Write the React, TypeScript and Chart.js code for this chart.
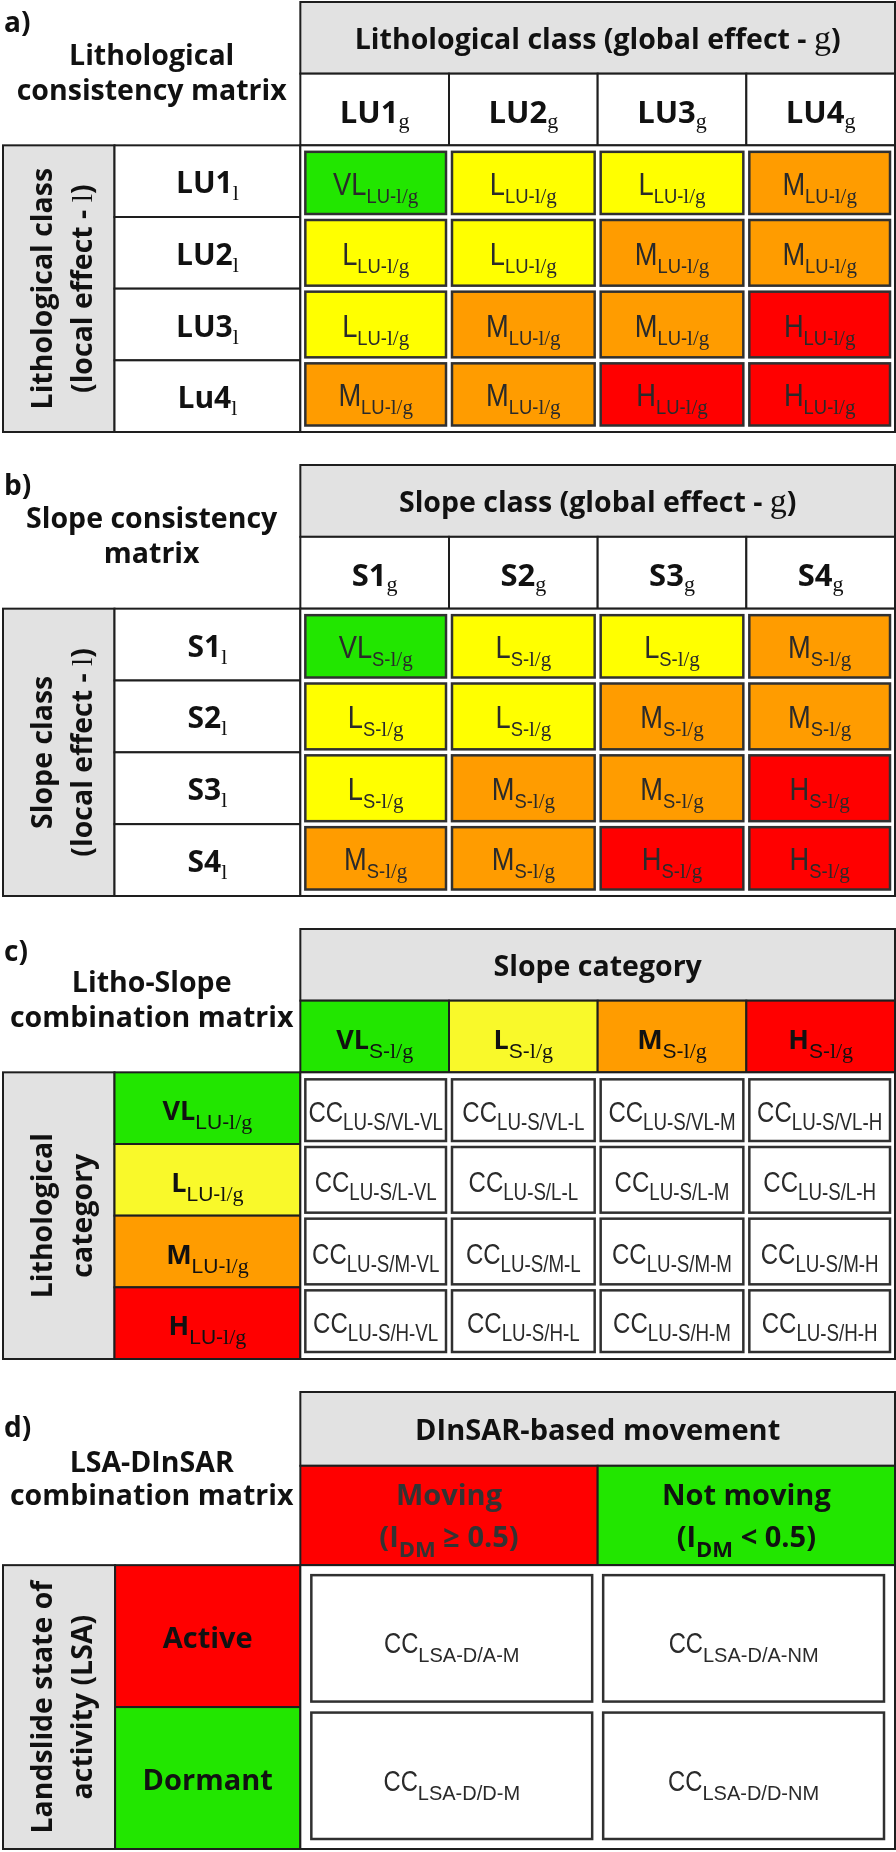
import React, { useEffect, useRef } from "react";
import { Chart, registerables } from "chart.js";
Chart.register(...registerables);

// ---------------- data ----------------
const panelLabels = ["a)", "b)", "c)", "d)"];
const panelTitles = [
  ["Lithological", "consistency matrix"],
  ["Slope consistency", "matrix"],
  ["Litho-Slope", "combination matrix"],
  ["LSA-DInSAR", "combination matrix"],
];
const headerTitles = [
  "Lithological class (global effect - ",
  "Slope class (global effect - ",
  "Slope category",
  "DInSAR-based movement",
];
const sideTitles = [
  ["Lithological class", "(local effect - "],
  ["Slope class", "(local effect - "],
  ["Lithological", "category"],
  ["Landslide state of", "activity (LSA)"],
];
const lithoColClasses = ["LU1", "LU2", "LU3", "LU4"];
const lithoRowClasses = ["LU1", "LU2", "LU3", "Lu4"];
const slopeColClasses = ["S1", "S2", "S3", "S4"];
const slopeRowClasses = ["S1", "S2", "S3", "S4"];
const lithoMatrix = [
  ["VL", "L", "L", "M"],
  ["L", "L", "M", "M"],
  ["L", "M", "M", "H"],
  ["M", "M", "H", "H"],
];
const slopeMatrix = [
  ["VL", "L", "L", "M"],
  ["L", "L", "M", "M"],
  ["L", "M", "M", "H"],
  ["M", "M", "H", "H"],
];
const slopeCategories = ["VL", "L", "M", "H"];
const lithoCategories = ["VL", "L", "M", "H"];
const dinsarClasses = ["Moving", "Not moving"];
const dinsarOperators = ["≥", "<"];
const dinsarThreshold = "0.5";
const dinsarCodes = ["M", "NM"];
const lsaClasses = ["Active", "Dormant"];
const lsaCodes = ["A", "D"];

// ---------------- styles ----------------
const GREEN = "#22e600";
const YELLOW = "#ffff00";
const ORANGE = "#ff9c00";
const RED = "#ff0000";
const GREY = "#e2e2e2";
const LINE = "#1e1e1e";
const BOX = "#303030";
const DARK = "#111111";
const CELLTXT = "#2a2a2a";
const levelColors: Record<string, string> = { VL: GREEN, L: YELLOW, M: ORANGE, H: RED };
const levelColorsC: Record<string, string> = { VL: GREEN, L: "#f9f92a", M: ORANGE, H: RED };

const BOLDF = '"Open Sans", "Lato", sans-serif';
const SANSF = '"Liberation Sans", Arial, sans-serif';
const SERIFF = '"Liberation Serif", "Times New Roman", serif';

const TS = 28.5; // heading size

type Run = { t: string; f: string; dy?: number; sx?: number };
type TextLine = { runs: Run[]; dy: number };
type CellText = { lines: TextLine[]; color: string };

const B = (t: string, s: number, dy = 0, sx = 1): Run => ({ t, f: `bold ${s}px ${BOLDF}`, dy, sx });
const S = (t: string, s: number, dy = 0, sx = 1): Run => ({ t, f: `${s}px ${SANSF}`, dy, sx });
const R = (t: string, s: number, dy = 0, sx = 1): Run => ({ t, f: `${s}px ${SERIFF}`, dy, sx });

interface PanelCfg {
  height: number; padTop: number; padBottom: number;
  xMin: number; xMax: number; greyEdge: number;
  yMin: number; yMax: number; titleEdge: number;
  nCols: number; nRows: number;
  padX: number; padY: number; gap: number;
  label: string; labelDy: number;
  title: TextLine[];
  headerTitle: TextLine;
  side: TextLine[];
  colFill: (c: number) => string; colText: (c: number) => CellText;
  rowFill: (r: number) => string; rowText: (r: number) => CellText;
  cellFill: (r: number, c: number) => string; cellText: (r: number, c: number) => CellText;
}

function runsWidth(ctx: CanvasRenderingContext2D, runs: Run[]) {
  let w = 0;
  for (const r of runs) {
    ctx.font = r.f;
    w += ctx.measureText(r.t).width * (r.sx ?? 1);
  }
  return w;
}

function drawRuns(ctx: CanvasRenderingContext2D, runs: Run[], cx: number, base: number, color: string) {
  const w = runsWidth(ctx, runs);
  let x = cx - w / 2;
  ctx.fillStyle = color;
  ctx.textAlign = "left";
  ctx.textBaseline = "alphabetic";
  for (const r of runs) {
    ctx.font = r.f;
    const rw = ctx.measureText(r.t).width;
    const sx = r.sx ?? 1;
    ctx.save();
    ctx.translate(x, base + (r.dy ?? 0));
    ctx.scale(sx, 1);
    ctx.fillText(r.t, 0, 0);
    ctx.restore();
    x += rw * sx;
  }
}

function drawPanel(chart: any, p: PanelCfg) {
  const ctx: CanvasRenderingContext2D = chart.ctx;
  const X = (v: number) => chart.scales.x.getPixelForValue(v);
  const Y = (v: number) => chart.scales.y.getPixelForValue(v);
  ctx.save();
  ctx.fillStyle = "#fff";
  ctx.fillRect(0, 0, chart.width, chart.height);
  const rect = (x0: number, y0: number, x1: number, y1: number, fill: string, lw = 2, stroke = LINE) => {
    ctx.fillStyle = fill;
    ctx.fillRect(x0, y0, x1 - x0, y1 - y0);
    ctx.lineWidth = lw;
    ctx.strokeStyle = stroke;
    ctx.strokeRect(x0, y0, x1 - x0, y1 - y0);
  };
  // title row
  rect(X(0), Y(p.yMin), X(p.nCols), Y(p.titleEdge), GREY);
  // column headers
  for (let c = 0; c < p.nCols; c++) rect(X(c), Y(p.titleEdge), X(c + 1), Y(0), p.colFill(c));
  // grey side column
  rect(X(p.xMin), Y(0), X(p.greyEdge), Y(p.nRows), GREY);
  // row headers
  for (let r = 0; r < p.nRows; r++) rect(X(p.greyEdge), Y(r), X(0), Y(r + 1), p.rowFill(r));
  // body frame
  rect(X(0), Y(0), X(p.nCols), Y(p.nRows), "#fff");
  // body boxes
  const boxes: { r: number; c: number; x0: number; x1: number; y0: number; y1: number }[] = [];
  for (let r = 0; r < p.nRows; r++) {
    for (let c = 0; c < p.nCols; c++) {
      const x0 = X(c) + (c === 0 ? p.padX : p.gap / 2);
      const x1 = X(c + 1) - (c === p.nCols - 1 ? p.padX : p.gap / 2);
      const y0 = Y(r) + (r === 0 ? p.padY : p.gap / 2);
      const y1 = Y(r + 1) - (r === p.nRows - 1 ? p.padY : p.gap / 2);
      rect(x0, y0, x1, y1, p.cellFill(r, c), 2.5, BOX);
      boxes.push({ r, c, x0, x1, y0, y1 });
    }
  }
  // ---- texts ----
  ctx.font = `bold 28px ${BOLDF}`;
  ctx.fillStyle = DARK;
  ctx.textAlign = "left";
  ctx.textBaseline = "alphabetic";
  ctx.fillText(p.label, X(p.xMin) + 1, Y(p.yMin) + p.labelDy);
  // left title
  const tcx = (X(p.xMin) + X(0)) / 2;
  const tcy = (Y(p.yMin) + Y(0)) / 2;
  for (const l of p.title) drawRuns(ctx, l.runs, tcx, tcy + l.dy, DARK);
  // header title
  drawRuns(ctx, p.headerTitle.runs, (X(0) + X(p.nCols)) / 2, (Y(p.yMin) + Y(p.titleEdge)) / 2 + p.headerTitle.dy, DARK);
  // column headers
  for (let c = 0; c < p.nCols; c++) {
    const t = p.colText(c);
    for (const l of t.lines) drawRuns(ctx, l.runs, X(c + 0.5), (Y(p.titleEdge) + Y(0)) / 2 + l.dy, t.color);
  }
  // row headers
  for (let r = 0; r < p.nRows; r++) {
    const t = p.rowText(r);
    for (const l of t.lines) drawRuns(ctx, l.runs, (X(p.greyEdge) + X(0)) / 2, Y(r + 0.5) + l.dy, t.color);
  }
  // cells
  for (const b of boxes) {
    const t = p.cellText(b.r, b.c);
    for (const l of t.lines) drawRuns(ctx, l.runs, (b.x0 + b.x1) / 2, (b.y0 + b.y1) / 2 + l.dy, t.color);
  }
  // rotated side title
  const scx = (X(p.xMin) + X(p.greyEdge)) / 2;
  const scy = (Y(0) + Y(p.nRows)) / 2;
  for (const l of p.side) {
    ctx.save();
    ctx.translate(scx + l.dy, scy);
    ctx.rotate(-Math.PI / 2);
    drawRuns(ctx, l.runs, 0, 0, DARK);
    ctx.restore();
  }
  ctx.restore();
}

function makeConsistency(
  idx: number, cols: string[], rows: string[], matrix: string[][], pre: string,
  height: number, padTop: number, padBottom: number
): PanelCfg {
  return {
    height, padTop, padBottom,
    xMin: -2, xMax: 4, greyEdge: -1.25, yMin: -2, yMax: 4, titleEdge: -1,
    nCols: 4, nRows: 4, padX: 5, padY: 6.5, gap: 6,
    label: panelLabels[idx], labelDy: 30,
    title: [
      { runs: [B(panelTitles[idx][0], TS)], dy: -9 },
      { runs: [B(panelTitles[idx][1], TS)], dy: 26 },
    ],
    headerTitle: { runs: [B(headerTitles[idx], TS), R("g", 34), B(")", TS)], dy: 11 },
    side: [
      { runs: [B(sideTitles[idx][0], TS)], dy: -7 },
      { runs: [B(sideTitles[idx][1], TS), R("l", 30), B(")", TS)], dy: 33 },
    ],
    colFill: () => "#fff",
    colText: (c) => ({ lines: [{ runs: [B(cols[c], 31), R("g", 22, 5)], dy: 13 }], color: DARK }),
    rowFill: () => "#fff",
    rowText: (r) => ({ lines: [{ runs: [B(rows[r], 30), R("l", 22, 7)], dy: 12 }], color: DARK }),
    cellFill: (r, c) => levelColors[matrix[r][c]],
    cellText: (r, c) => ({
      lines: [{ runs: [S(matrix[r][c], 31, 0, 0.88), S(pre, 20, 8, 0.92), R("l/g", 21, 8)], dy: 12 }],
      color: CELLTXT,
    }),
  };
}

const cfgA = makeConsistency(0, lithoColClasses, lithoRowClasses, lithoMatrix, "LU-", 464, 2, 32);
const cfgB = makeConsistency(1, slopeColClasses, slopeRowClasses, slopeMatrix, "S-", 463, 1, 31);

const cfgC: PanelCfg = {
  height: 455, padTop: 2, padBottom: 23,
  xMin: -2, xMax: 4, greyEdge: -1.25, yMin: -2, yMax: 4, titleEdge: -1,
  nCols: 4, nRows: 4, padX: 5, padY: 7, gap: 6,
  label: panelLabels[2], labelDy: 32,
  title: [
    { runs: [B(panelTitles[2][0], TS)], dy: -9 },
    { runs: [B(panelTitles[2][1], TS)], dy: 26 },
  ],
  headerTitle: { runs: [B(headerTitles[2], TS)], dy: 11 },
  side: [
    { runs: [B(sideTitles[2][0], TS)], dy: -7 },
    { runs: [B(sideTitles[2][1], TS)], dy: 33 },
  ],
  colFill: (c) => levelColorsC[slopeCategories[c]],
  colText: (c) => ({
    lines: [{ runs: [B(slopeCategories[c], 27), S("S-", 21, 9), R("l/g", 22, 9)], dy: 12 }],
    color: DARK,
  }),
  rowFill: (r) => levelColorsC[lithoCategories[r]],
  rowText: (r) => ({
    lines: [{ runs: [B(lithoCategories[r], 27), S("LU-", 21, 9), R("l/g", 22, 9)], dy: 12 }],
    color: DARK,
  }),
  cellFill: () => "#fff",
  cellText: (r, c) => ({
    lines: [{
      runs: [S("CC", 30, 0, 0.8), S(`LU-S/${lithoCategories[r]}-${slopeCategories[c]}`, 24, 8, 0.78)],
      dy: 12,
    }],
    color: CELLTXT,
  }),
};

const cfgD: PanelCfg = {
  height: 470, padTop: 10, padBottom: 3,
  xMin: -1, xMax: 2, greyEdge: -0.623, yMin: -1.22, yMax: 2, titleEdge: -0.7,
  nCols: 2, nRows: 2, padX: 11, padY: 10, gap: 11,
  label: panelLabels[3], labelDy: 45,
  title: [
    { runs: [B(panelTitles[3][0], TS)], dy: -7 },
    { runs: [B(panelTitles[3][1], TS)], dy: 26 },
  ],
  headerTitle: { runs: [B(headerTitles[3], 29)], dy: 11 },
  side: [
    { runs: [B(sideTitles[3][0], TS)], dy: -7 },
    { runs: [B(sideTitles[3][1], TS)], dy: 33 },
  ],
  colFill: (c) => (c === 0 ? RED : GREEN),
  colText: (c) => ({
    lines: [
      { runs: [B(dinsarClasses[c], 29)], dy: -10.5 },
      { runs: [B("(I", 29), B("DM", 22, 10), B(` ${dinsarOperators[c]} ${dinsarThreshold})`, 29)], dy: 31.5 },
    ],
    color: c === 0 ? "#333333" : DARK,
  }),
  rowFill: (r) => (r === 0 ? RED : GREEN),
  rowText: (r) => ({ lines: [{ runs: [B(lsaClasses[r], 29)], dy: 12 }], color: DARK }),
  cellFill: () => "#fff",
  cellText: (r, c) => ({
    lines: [{ runs: [S("CC", 29, 0, 0.82), S(`LSA-D/${lsaCodes[r]}-${dinsarCodes[c]}`, 20, 9)], dy: 15 }],
    color: CELLTXT,
  }),
};

const panels = [cfgA, cfgB, cfgC, cfgD];

function PanelChart({ cfg }: { cfg: PanelCfg }) {
  const ref = useRef<HTMLCanvasElement>(null);
  useEffect(() => {
    const canvas = ref.current!;
    const points: { x: number; y: number }[] = [];
    for (let r = 0; r < cfg.nRows; r++) for (let c = 0; c < cfg.nCols; c++) points.push({ x: c + 0.5, y: r + 0.5 });
    const chart = new Chart(canvas, {
      type: "scatter",
      data: { datasets: [{ data: points, pointRadius: 0, pointHoverRadius: 0 }] },
      options: {
        animation: false,
        responsive: false,
        devicePixelRatio: 1,
        events: [],
        layout: { padding: { left: 3, right: 1, top: cfg.padTop, bottom: cfg.padBottom } },
        scales: {
          x: { type: "linear", min: cfg.xMin, max: cfg.xMax, display: false },
          y: { type: "linear", min: cfg.yMin, max: cfg.yMax, reverse: true, display: false },
        },
        plugins: { legend: { display: false }, tooltip: { enabled: false } },
      },
      plugins: [{ id: "matrixDraw", afterDraw: (ch: any) => drawPanel(ch, cfg) }],
    } as any);
    let alive = true;
    if ((document as any).fonts?.ready) {
      (document as any).fonts.ready.then(() => { if (alive) chart.update(); });
    }
    return () => { alive = false; chart.destroy(); };
  }, [cfg]);
  return (
    <canvas ref={ref} width={896} height={cfg.height}
      style={{ display: "block", width: 896, height: cfg.height }} />
  );
}

export default function App() {
  return (
    <div style={{ position: "absolute", left: 0, top: 0, width: 896, height: 1852, background: "#fff" }}>
      {panels.map((p, i) => <PanelChart key={i} cfg={p} />)}
    </div>
  );
}
